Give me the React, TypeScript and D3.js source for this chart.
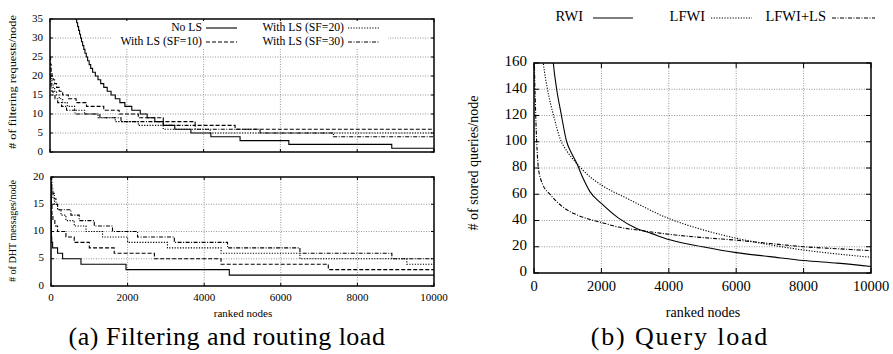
import React from "react";
import * as d3 from "d3";

type Pt = [number, number];

const rankTicks = [0, 2000, 4000, 6000, 8000, 10000];
const filterTicks = [0, 5, 10, 15, 20, 25, 30, 35];
const dhtTicks = [0, 5, 10, 15, 20];
const queryTicks = [0, 20, 40, 60, 80, 100, 120, 140, 160];

// (a) top: filtering requests per node, [ranked node, value], step after
const filterNoLS: Pt[] = [
  [0, 60], [450, 40], [560, 38], [610, 37], [640, 36], [670, 35], [695, 34], [720, 33],
  [745, 32], [770, 31], [795, 30], [820, 29], [850, 28], [880, 27], [910, 26], [945, 25],
  [980, 24], [1020, 23], [1060, 22], [1110, 21], [1180, 20], [1250, 19], [1320, 18],
  [1400, 17], [1490, 16], [1590, 15], [1700, 14], [1820, 13], [1950, 12], [2130, 11],
  [2350, 10], [2530, 9], [2730, 8], [2950, 7], [3250, 6], [3670, 5], [4190, 4], [4950, 3],
  [6220, 2], [8900, 1], [10000, 1],
];
const filterSF10: Pt[] = [
  [0, 25], [15, 23], [30, 21], [50, 20], [80, 19], [120, 18], [170, 17], [240, 16],
  [330, 15], [480, 14], [680, 13], [950, 12], [1400, 11], [1800, 10], [2300, 9],
  [2950, 8], [3780, 7], [4820, 6], [10000, 6],
];
const filterSF20: Pt[] = [
  [0, 22], [15, 20], [30, 19], [50, 18], [80, 17], [120, 16], [170, 15], [240, 14],
  [330, 13], [450, 12], [640, 11], [900, 10], [1250, 9], [1700, 8], [2300, 7],
  [2950, 6], [4170, 5], [10000, 5],
];
const filterSF30: Pt[] = [
  [0, 20], [15, 18], [30, 17], [50, 16], [80, 15], [130, 14], [200, 13], [300, 12],
  [430, 11], [650, 10], [1300, 9], [1850, 8], [2950, 7], [3780, 6], [5470, 5],
  [7380, 4], [10000, 4],
];

// (a) bottom: DHT messages per node
const dhtNoLS: Pt[] = [
  [0, 19], [5, 12], [10, 9], [20, 8], [42, 7], [172, 6], [303, 5], [783, 4],
  [1958, 3], [4655, 2], [10000, 2],
];
const dhtSF10: Pt[] = [
  [0, 18], [10, 15], [25, 13], [50, 12], [100, 11], [172, 10], [390, 9], [607, 8],
  [1000, 7], [1650, 6], [2700, 5], [4440, 4], [7240, 3], [10000, 3],
];
const dhtSF20: Pt[] = [
  [0, 19], [20, 17], [50, 16], [90, 15], [172, 14], [260, 13], [390, 12], [607, 11],
  [914, 10], [1347, 9], [2000, 8], [3040, 7], [4440, 6], [6500, 5], [9290, 4], [10000, 4],
];
const dhtSF30: Pt[] = [
  [0, 20], [20, 18], [50, 17], [90, 16], [130, 15], [172, 14], [520, 13], [737, 12],
  [1130, 11], [1606, 10], [2260, 9], [3220, 8], [4610, 7], [6500, 6], [8900, 5],
  [10000, 5],
];

// (b) stored queries per node
const queryRWI: Pt[] = [
  [500, 185], [573, 160], [673, 140], [800, 122], [970, 100], [1100, 92], [1250, 84.5],
  [1460, 72], [1660, 62], [2000, 53], [2500, 42], [3000, 34.5], [3500, 30], [4000, 25.5],
  [5000, 20], [6000, 15.5], [7000, 12.5], [8000, 9.5], [9000, 7.5], [10000, 5],
];
const queryLFWI: Pt[] = [
  [200, 180], [277, 160], [400, 140], [580, 120], [780, 102], [1000, 92], [1266, 83.5],
  [1630, 74], [2000, 67], [2750, 57], [4000, 41.5], [5000, 33], [6000, 26.5],
  [7000, 21.5], [8000, 17.5], [9000, 14.5], [10000, 12],
];
const queryLFWILS: Pt[] = [
  [0, 200], [10, 165], [40, 130], [80, 100], [130, 80], [250, 68], [475, 60], [870, 50],
  [1300, 44], [1700, 40.5], [2000, 38.5], [2500, 35], [3150, 32.5], [4000, 29.5],
  [5000, 27], [6000, 25], [7000, 22.5], [8000, 20], [9000, 18.5], [10000, 17],
];

const SOLID = "none";
const DASH = "4,2";
const DOT = "1.2,1.5";
const DASHDOT = "4,1.5,1,1.5";

const FONT = "Liberation Serif, Times New Roman, serif";

type Series = { data: Pt[]; dash: string };

function Plot(props: {
  id: string;
  left: number;
  right: number;
  top: number;
  bottom: number;
  yMax: number;
  yTicks: number[];
  series: Series[];
  step: boolean;
  xLabels: boolean;
  fs: number;
  xfs: number;
  tickLen: number;
  labelGap: number;
  yLabelX: number;
}) {
  const { id, left, right, top, bottom, yMax, yTicks, series, step, xLabels, fs, xfs, tickLen, labelGap, yLabelX } = props;
  const x = d3.scaleLinear().domain([0, 10000]).range([left, right]);
  const y = d3.scaleLinear().domain([0, yMax]).range([bottom, top]);
  const line = d3
    .line<Pt>()
    .x((d) => x(d[0]))
    .y((d) => y(d[1]))
    .curve(step ? d3.curveStepAfter : d3.curveMonotoneX);

  return (
    <g>
      <defs>
        <clipPath id={id}>
          <rect x={left} y={top} width={right - left} height={bottom - top} />
        </clipPath>
      </defs>
      {/* grid */}
      {rankTicks.slice(1, -1).map((t) => (
        <line key={"gx" + t} x1={x(t)} x2={x(t)} y1={top} y2={bottom} stroke="#8a8a8a" strokeWidth={0.9} strokeDasharray="1,1.5" />
      ))}
      {yTicks.slice(1, -1).map((t) => (
        <line key={"gy" + t} x1={left} x2={right} y1={y(t)} y2={y(t)} stroke="#8a8a8a" strokeWidth={0.9} strokeDasharray="1,1.5" />
      ))}
      {/* ticks */}
      {rankTicks.map((t) => (
        <g key={"tx" + t}>
          <line x1={x(t)} x2={x(t)} y1={bottom} y2={bottom - tickLen} stroke="#000" />
          <line x1={x(t)} x2={x(t)} y1={top} y2={top + tickLen} stroke="#000" />
          {xLabels && (
            <text x={x(t)} y={bottom + labelGap} textAnchor="middle" dominantBaseline="middle" fontSize={xfs}>
              {t}
            </text>
          )}
        </g>
      ))}
      {yTicks.map((t) => (
        <g key={"ty" + t}>
          <line x1={left} x2={left + tickLen} y1={y(t)} y2={y(t)} stroke="#000" />
          <line x1={right} x2={right - tickLen} y1={y(t)} y2={y(t)} stroke="#000" />
          <text x={yLabelX} y={y(t)} textAnchor="end" dominantBaseline="middle" fontSize={fs}>
            {t}
          </text>
        </g>
      ))}
      <g clipPath={`url(#${id})`}>
        {series.map((s, i) => (
          <path key={i} d={line(s.data) || ""} fill="none" stroke="#000" strokeWidth={1.1} strokeDasharray={s.dash} />
        ))}
      </g>
      <rect x={left} y={top} width={right - left} height={bottom - top} fill="none" stroke="#000" strokeWidth={1.5} />
    </g>
  );
}

export default function App() {
  return (
    <svg
      width={893}
      height={354}
      style={{ position: "absolute", left: 0, top: 0, display: "block", background: "#fff", fontFamily: FONT }}
    >
      {/* (a) top */}
      <Plot
        id="ca"
        left={50}
        right={434}
        top={19}
        bottom={152}
        yMax={35}
        yTicks={filterTicks}
        step={true}
        xLabels={false}
        fs={11}
        xfs={11}
        tickLen={3}
        labelGap={13}
        yLabelX={43}
        series={[
          { data: filterNoLS, dash: SOLID },
          { data: filterSF10, dash: DASH },
          { data: filterSF20, dash: DOT },
          { data: filterSF30, dash: DASHDOT },
        ]}
      />
      {/* legend (a) */}
      <rect x={112} y={21} width={276} height={28} fill="#fff" />
      <g fontSize={11.7}>
        <text x={202} y={28} textAnchor="end" dominantBaseline="middle">No LS</text>
        <line x1={206} x2={237} y1={28} y2={28} stroke="#000" strokeWidth={1.1} />
        <text x={202} y={42} textAnchor="end" dominantBaseline="middle">With LS (SF=10)</text>
        <line x1={206} x2={237} y1={42} y2={42} stroke="#000" strokeWidth={1.1} strokeDasharray={DASH} />
        <text x={344} y={28} textAnchor="end" dominantBaseline="middle">With LS (SF=20)</text>
        <line x1={348} x2={380} y1={28} y2={28} stroke="#000" strokeWidth={1.1} strokeDasharray={DOT} />
        <text x={344} y={42} textAnchor="end" dominantBaseline="middle">With LS (SF=30)</text>
        <line x1={348} x2={380} y1={42} y2={42} stroke="#000" strokeWidth={1.1} strokeDasharray={DASHDOT} />
      </g>
      <text
        transform="translate(14,82) rotate(-90)"
        textAnchor="middle"
        dominantBaseline="middle"
        fontSize={10}
        textLength={134}
        lengthAdjust="spacingAndGlyphs"
      >
        # of filtering requests/node
      </text>

      {/* (a) bottom */}
      <Plot
        id="cb"
        left={51}
        right={434}
        top={177}
        bottom={286}
        yMax={20}
        yTicks={dhtTicks}
        step={true}
        xLabels={true}
        fs={11}
        xfs={11}
        tickLen={3}
        labelGap={12}
        yLabelX={44}
        series={[
          { data: dhtNoLS, dash: SOLID },
          { data: dhtSF10, dash: DASH },
          { data: dhtSF20, dash: DOT },
          { data: dhtSF30, dash: DASHDOT },
        ]}
      />
      <text
        transform="translate(14,231) rotate(-90)"
        textAnchor="middle"
        dominantBaseline="middle"
        fontSize={9.5}
        textLength={102}
        lengthAdjust="spacingAndGlyphs"
      >
        # of DHT messages/node
      </text>
      <text x={243} y={314} textAnchor="middle" dominantBaseline="middle" fontSize={11}>
        ranked nodes
      </text>

      {/* (b) */}
      <Plot
        id="cc"
        left={534}
        right={871}
        top={63}
        bottom={273}
        yMax={160}
        yTicks={queryTicks}
        step={false}
        xLabels={true}
        fs={15}
        xfs={14.5}
        tickLen={5}
        labelGap={15}
        yLabelX={527}
        series={[
          { data: queryRWI, dash: SOLID },
          { data: queryLFWI, dash: DOT },
          { data: queryLFWILS, dash: DASHDOT },
        ]}
      />
      <g fontSize={14.5}>
        <text x={583} y={18} textAnchor="end" dominantBaseline="middle">RWI</text>
        <line x1={593} x2={633} y1={18} y2={18} stroke="#000" strokeWidth={1.1} />
        <text x={705} y={18} textAnchor="end" dominantBaseline="middle">LFWI</text>
        <line x1={711} x2={752} y1={18} y2={18} stroke="#000" strokeWidth={1.1} strokeDasharray={DOT} />
        <text x={826} y={18} textAnchor="end" dominantBaseline="middle">LFWI+LS</text>
        <line x1={832} x2={875} y1={18} y2={18} stroke="#000" strokeWidth={1.1} strokeDasharray={DASHDOT} />
      </g>
      <text transform="translate(475,163) rotate(-90)" textAnchor="middle" dominantBaseline="middle" fontSize={14}>
        # of stored queries/node
      </text>
      <text x={703} y={314} textAnchor="middle" dominantBaseline="middle" fontSize={14}>
        ranked nodes
      </text>

      {/* captions */}
      <text x={227} y={345} textAnchor="middle" fontSize={26} letterSpacing={0.5}>
        (a) Filtering and routing load
      </text>
      <text x={680} y={345} textAnchor="middle" fontSize={26} letterSpacing={1.8}>
        (b) Query load
      </text>
    </svg>
  );
}
